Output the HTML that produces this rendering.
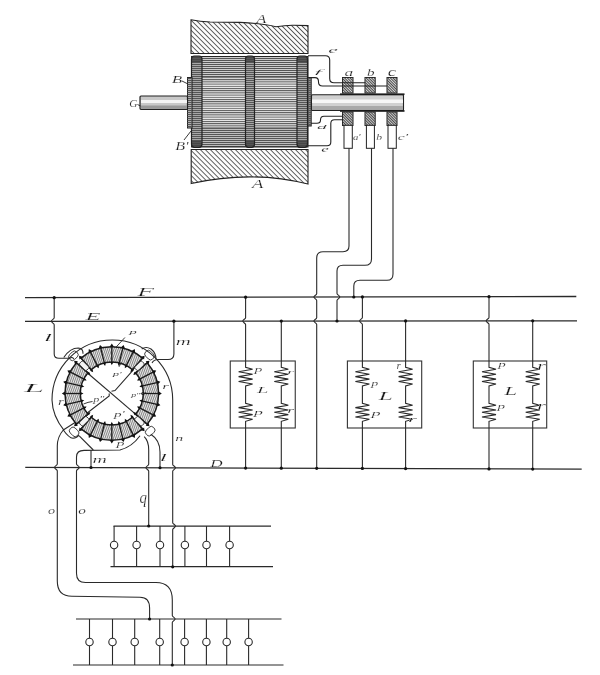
<!DOCTYPE html>
<html><head><meta charset="utf-8">
<style>
html,body{margin:0;padding:0;background:#fff;width:600px;height:675px;overflow:hidden}
svg{display:block;will-change:transform}
text{font-family:"Liberation Serif",serif;font-style:italic;fill:#1a1a1a}
</style></head><body>
<svg width="600" height="675" viewBox="0 0 600 675">
<defs>
<pattern id="hatch" patternUnits="userSpaceOnUse" width="3.54" height="10" patternTransform="rotate(-45)">
<rect x="0" y="0" width="0.95" height="10" fill="#555"/>
</pattern>
<pattern id="hatchs" patternUnits="userSpaceOnUse" width="1.9" height="10" patternTransform="rotate(-45)">
<rect x="0" y="0" width="0.9" height="10" fill="#444"/>
</pattern>
<pattern id="lam" patternUnits="userSpaceOnUse" width="10" height="2.2">
<rect x="0" y="0" width="10" height="1.0" fill="#555"/>
</pattern>
<pattern id="lamd" patternUnits="userSpaceOnUse" width="10" height="2">
<rect x="0" y="0" width="10" height="1.1" fill="#555"/>
</pattern>
<pattern id="coil" patternUnits="userSpaceOnUse" width="2" height="10" patternTransform="rotate(20)">
<rect x="0" y="0" width="0.8" height="10" fill="#6a6a6a"/>
</pattern>
</defs>
<path d="M191,19.8 Q200,21.5 210,22 L240,22.4 Q262,23.2 276,26.7 Q286,25 294,25.2 L308,25.6 L308,53.5 L191,53.5 Z" fill="url(#hatch)" stroke="#222" stroke-width="1.1"/>
<path d="M191.2,149.5 L308,149.5 L308,184 Q252,170 191.2,183.5 Z" fill="url(#hatch)" stroke="#222" stroke-width="1.1"/>
<rect x="191.5" y="56.5" width="116.5" height="90.5" fill="#f0f0f0"/>
<rect x="191.5" y="56.5" width="116.5" height="90.5" fill="url(#lam)"/>
<rect x="191.5" y="56.5" width="116.5" height="21" fill="#dadada"/>
<rect x="191.5" y="56.5" width="116.5" height="21" fill="url(#lamd)"/>
<rect x="191.5" y="128" width="116.5" height="19" fill="#c8c8c8"/>
<rect x="191.5" y="128" width="116.5" height="19" fill="url(#lamd)"/>
<line x1="191.5" y1="77.5" x2="308" y2="77.5" stroke="#777" stroke-width="0.8"/>
<line x1="191.5" y1="127.8" x2="308" y2="127.8" stroke="#777" stroke-width="0.8"/>
<rect x="191.5" y="56.5" width="116.5" height="90.5" fill="none" stroke="#222" stroke-width="1"/>
<rect x="191.5" y="56" width="10.5" height="91.3" rx="3" fill="#b0b0b0"/>
<rect x="191.5" y="56" width="10.5" height="7" rx="3" fill="#444"/>
<rect x="191.5" y="140.3" width="10.5" height="7" rx="3" fill="#444"/>
<rect x="191.5" y="56" width="10.5" height="91.3" rx="3" fill="url(#lamd)"/>
<rect x="191.5" y="56" width="10.5" height="91.3" rx="3" fill="none" stroke="#222" stroke-width="1.2"/>
<rect x="245.5" y="56" width="9" height="91.3" rx="3" fill="#b0b0b0"/>
<rect x="245.5" y="56" width="9" height="7" rx="3" fill="#444"/>
<rect x="245.5" y="140.3" width="9" height="7" rx="3" fill="#444"/>
<rect x="245.5" y="56" width="9" height="91.3" rx="3" fill="url(#lamd)"/>
<rect x="245.5" y="56" width="9" height="91.3" rx="3" fill="none" stroke="#222" stroke-width="1.2"/>
<rect x="297" y="56" width="10.5" height="91.3" rx="3" fill="#b0b0b0"/>
<rect x="297" y="56" width="10.5" height="7" rx="3" fill="#444"/>
<rect x="297" y="140.3" width="10.5" height="7" rx="3" fill="#444"/>
<rect x="297" y="56" width="10.5" height="91.3" rx="3" fill="url(#lamd)"/>
<rect x="297" y="56" width="10.5" height="91.3" rx="3" fill="none" stroke="#222" stroke-width="1.2"/>
<rect x="187.5" y="77.5" width="4.5" height="50.5" fill="#bbb" stroke="#222" stroke-width="1"/>
<rect x="187.5" y="77.5" width="4.5" height="50.5" fill="url(#lamd)"/>
<rect x="308" y="77.5" width="3.2" height="48.5" fill="#999" stroke="#222" stroke-width="1"/>
<rect x="308" y="77.5" width="3.2" height="48.5" fill="url(#lamd)"/>
<rect x="140" y="96" width="47.5" height="13.3" rx="1" fill="#c8c8c8" stroke="#222" stroke-width="1.2"/>
<rect x="141" y="100" width="46" height="3" fill="#f4f4f4"/>
<rect x="141" y="105.5" width="46" height="3" fill="#999"/>
<rect x="311.5" y="94.8" width="92" height="15.6" rx="1" fill="#d0d0d0" stroke="#222" stroke-width="1.1"/>
<rect x="312" y="99.5" width="91" height="3.5" fill="#f6f6f6"/>
<rect x="312" y="106" width="91" height="3.5" fill="#a8a8a8"/>
<rect x="340" y="93.4" width="64.5" height="1.7" fill="#1a1a1a"/>
<rect x="340" y="110.1" width="64.5" height="1.7" fill="#1a1a1a"/>
<path d="M182,81 L188,84 M137.5,104.5 L140.5,106 M184,140 L191,131" fill="none" stroke="#222" stroke-width="0.9"/>
<rect x="342.5" y="77.5" width="10.5" height="15.5" fill="#d4d4d4" stroke="#222"/>
<rect x="342.5" y="77.5" width="10.5" height="15.5" fill="url(#hatchs)"/>
<rect x="342.5" y="112" width="10.5" height="13.5" fill="#c8c8c8" stroke="#222"/>
<rect x="342.5" y="112" width="10.5" height="13.5" fill="url(#hatchs)"/>
<rect x="365" y="77.5" width="10.2" height="15.5" fill="#d4d4d4" stroke="#222"/>
<rect x="365" y="77.5" width="10.2" height="15.5" fill="url(#hatchs)"/>
<rect x="365" y="112" width="10.2" height="13.5" fill="#c8c8c8" stroke="#222"/>
<rect x="365" y="112" width="10.2" height="13.5" fill="url(#hatchs)"/>
<rect x="387" y="77.5" width="10" height="15.5" fill="#d4d4d4" stroke="#222"/>
<rect x="387" y="77.5" width="10" height="15.5" fill="url(#hatchs)"/>
<rect x="387" y="112" width="10" height="13.5" fill="#c8c8c8" stroke="#222"/>
<rect x="387" y="112" width="10" height="13.5" fill="url(#hatchs)"/>
<rect x="344" y="125.3" width="8.3" height="23" fill="#fff" stroke="#222"/>
<rect x="366.4" y="125.3" width="8" height="23" fill="#fff" stroke="#222"/>
<rect x="388" y="125.3" width="8.3" height="23" fill="#fff" stroke="#222"/>
<g fill="none" stroke="#222" stroke-width="1.1">
<path d="M308,55.8 L325.5,55.8 Q329.7,55.8 329.7,60 L329.7,78.5 Q329.7,82.8 334,82.8 L365,82.8"/>
<path d="M311,77.6 L315,77.6 Q318.5,77.6 318.5,81.5 L318.5,82 Q318.5,86 322.5,86 L387,86"/>
<path d="M311,123.3 L317,123.3 Q320.5,123.3 320.5,120 Q320.5,116.3 324,116.3 L342.5,116.3"/>
<path d="M308,145.8 L327,145.8 Q330.8,145.8 330.8,142 L330.8,123.5 Q330.8,119.7 334.5,119.7 L342.5,119.7"/>
</g>
<g fill="none" stroke="#2a2a2a" stroke-width="1.1">
<path d="M349,148.3 L349,246 Q349,251.7 343,251.7 L323,251.7 Q316.7,251.7 316.7,258 L316.70,293.67 C316.70,294.87 313.90,295.67 313.90,297.07 C313.90,298.47 316.70,299.27 316.70,300.47 L316.70,317.64 C316.70,318.84 313.90,319.64 313.90,321.04 C313.90,322.44 316.70,323.24 316.70,324.44 L316.7,468.3"/>
<path d="M371.5,148.3 L371.5,259 Q371.5,265.3 365,265.3 L343,265.3 Q337,265.3 337,271 L337.00,293.62 C337.00,294.82 339.80,295.62 339.80,297.02 C339.80,298.42 337.00,299.22 337.00,300.42 L337,321.02"/>
<path d="M393,148.3 L393,274 Q393,280.3 387,280.3 L360,280.3 Q353.8,280.3 353.8,286 L353.8,296.98"/>
<line x1="25" y1="297.7" x2="576.3" y2="296.5" stroke-width="1.3"/>
<line x1="25" y1="321.3" x2="577" y2="320.8" stroke-width="1.3"/>
<line x1="25.25" y1="467.3" x2="581.7" y2="469.2" stroke-width="1.3"/>
</g>
<rect x="230.25" y="361" width="65.0" height="67" fill="none" stroke="#333" stroke-width="1.1"/>
<path d="M245.6,297.22 L245.60,317.70 C245.60,318.90 242.80,319.70 242.80,321.10 C242.80,322.50 245.60,323.30 245.60,324.50 L245.6,367.3 L252.60,369.30 L238.60,371.75 L252.60,374.20 L238.60,376.65 L252.60,379.10 L238.60,381.55 L252.60,384.00 L245.6,386 L245.6,403.3 L252.60,405.30 L238.60,407.63 L252.60,409.97 L238.60,412.30 L252.60,414.63 L238.60,416.97 L252.60,419.30 L245.6,421.3 L245.6,468.05" fill="none" stroke="#2a2a2a" stroke-width="1.1"/>
<path d="M281.3,321.07 L281.3,367.3 L288.30,369.30 L274.30,371.75 L288.30,374.20 L274.30,376.65 L288.30,379.10 L274.30,381.55 L288.30,384.00 L281.3,386 L281.3,403.3 L288.30,405.30 L274.30,407.63 L288.30,409.97 L274.30,412.30 L288.30,414.63 L274.30,416.97 L288.30,419.30 L281.3,421.3 L281.3,468.17" fill="none" stroke="#2a2a2a" stroke-width="1.1"/>
<rect x="347.4" y="361" width="74.30000000000001" height="67" fill="none" stroke="#333" stroke-width="1.1"/>
<path d="M362.4,296.97 L362.40,317.59 C362.40,318.79 359.60,319.59 359.60,320.99 C359.60,322.39 362.40,323.19 362.40,324.39 L362.4,367.3 L369.40,369.30 L355.40,371.75 L369.40,374.20 L355.40,376.65 L369.40,379.10 L355.40,381.55 L369.40,384.00 L362.4,386 L362.4,403.3 L369.40,405.30 L355.40,407.63 L369.40,409.97 L355.40,412.30 L369.40,414.63 L355.40,416.97 L369.40,419.30 L362.4,421.3 L362.4,468.45" fill="none" stroke="#2a2a2a" stroke-width="1.1"/>
<path d="M405.6,320.96 L405.6,367.3 L412.60,369.30 L398.60,371.75 L412.60,374.20 L398.60,376.65 L412.60,379.10 L398.60,381.55 L412.60,384.00 L405.6,386 L405.6,403.3 L412.60,405.30 L398.60,407.63 L412.60,409.97 L398.60,412.30 L412.60,414.63 L398.60,416.97 L412.60,419.30 L405.6,421.3 L405.6,468.6" fill="none" stroke="#2a2a2a" stroke-width="1.1"/>
<rect x="473.3" y="361" width="73.40000000000003" height="67" fill="none" stroke="#333" stroke-width="1.1"/>
<path d="M489,296.69 L489.00,317.48 C489.00,318.68 486.20,319.48 486.20,320.88 C486.20,322.28 489.00,323.08 489.00,324.28 L489,367.3 L496.00,369.30 L482.00,371.75 L496.00,374.20 L482.00,376.65 L496.00,379.10 L482.00,381.55 L496.00,384.00 L489,386 L489,403.3 L496.00,405.30 L482.00,407.63 L496.00,409.97 L482.00,412.30 L496.00,414.63 L482.00,416.97 L496.00,419.30 L489,421.3 L489,468.88" fill="none" stroke="#2a2a2a" stroke-width="1.1"/>
<path d="M532.7,320.84 L532.7,367.3 L539.70,369.30 L525.70,371.75 L539.70,374.20 L525.70,376.65 L539.70,379.10 L525.70,381.55 L539.70,384.00 L532.7,386 L532.7,403.3 L539.70,405.30 L525.70,407.63 L539.70,409.97 L525.70,412.30 L539.70,414.63 L525.70,416.97 L539.70,419.30 L532.7,421.3 L532.7,469.03" fill="none" stroke="#2a2a2a" stroke-width="1.1"/>
<g fill="none" stroke="#2a2a2a" stroke-width="1.1">
<path d="M86.9,372.5 L138.75,416.9"/>
<path d="M133.75,369.4 L115,390.6 L111.5,391.3"/>
<path d="M109.2,393.5 L109.2,396 L75,422.5 L63.3,430"/>
</g>
<path d="M81.10,358.18 A46.8,46.8 0 0 1 142.50,358.18 L132.47,369.73 A31.5,31.5 0 0 0 91.13,369.73 Z" fill="#ececec"/>
<path d="M81.10,358.18 A46.8,46.8 0 0 1 142.50,358.18 L132.47,369.73 A31.5,31.5 0 0 0 91.13,369.73 Z" fill="url(#coil)" stroke="#1a1a1a" stroke-width="1.5"/>
<line x1="92.32" y1="371.09" x2="79.92" y2="356.82" stroke="#1a1a1a" stroke-width="1.3"/>
<line x1="98.16" y1="367.12" x2="89.48" y2="350.33" stroke="#1a1a1a" stroke-width="1.3"/>
<line x1="104.78" y1="364.64" x2="100.32" y2="346.28" stroke="#1a1a1a" stroke-width="1.3"/>
<line x1="111.80" y1="363.80" x2="111.80" y2="344.90" stroke="#1a1a1a" stroke-width="1.3"/>
<line x1="118.82" y1="364.64" x2="123.28" y2="346.28" stroke="#1a1a1a" stroke-width="1.3"/>
<line x1="125.44" y1="367.12" x2="134.12" y2="350.33" stroke="#1a1a1a" stroke-width="1.3"/>
<line x1="131.28" y1="371.09" x2="143.68" y2="356.82" stroke="#1a1a1a" stroke-width="1.3"/>
<path d="M90.08,370.69 L93.23,372.14 L92.23,368.81 Z" fill="#111"/>
<path d="M79.53,359.61 L79.00,355.76 L82.73,356.82 Z" fill="#111"/>
<path d="M96.08,366.20 L98.81,368.36 L98.62,364.89 Z" fill="#111"/>
<path d="M88.45,352.94 L88.84,349.08 L92.22,350.99 Z" fill="#111"/>
<path d="M102.98,363.26 L105.11,366.00 L105.75,362.59 Z" fill="#111"/>
<path d="M98.69,348.57 L99.99,344.92 L102.82,347.57 Z" fill="#111"/>
<path d="M110.37,362.03 L111.80,365.20 L113.23,362.03 Z" fill="#111"/>
<path d="M109.68,346.75 L111.80,343.50 L113.92,346.75 Z" fill="#111"/>
<path d="M117.85,362.59 L118.49,366.00 L120.62,363.26 Z" fill="#111"/>
<path d="M120.78,347.57 L123.61,344.92 L124.91,348.57 Z" fill="#111"/>
<path d="M124.98,364.89 L124.79,368.36 L127.52,366.20 Z" fill="#111"/>
<path d="M131.38,350.99 L134.76,349.08 L135.15,352.94 Z" fill="#111"/>
<path d="M131.37,368.81 L130.37,372.14 L133.52,370.69 Z" fill="#111"/>
<path d="M140.87,356.82 L144.60,355.76 L144.07,359.61 Z" fill="#111"/>
<path d="M147.12,362.80 A46.8,46.8 0 0 1 147.12,424.20 L135.57,414.17 A31.5,31.5 0 0 0 135.57,372.83 Z" fill="#ececec"/>
<path d="M147.12,362.80 A46.8,46.8 0 0 1 147.12,424.20 L135.57,414.17 A31.5,31.5 0 0 0 135.57,372.83 Z" fill="url(#coil)" stroke="#1a1a1a" stroke-width="1.5"/>
<line x1="134.21" y1="374.02" x2="148.48" y2="361.62" stroke="#1a1a1a" stroke-width="1.3"/>
<line x1="138.18" y1="379.86" x2="154.97" y2="371.18" stroke="#1a1a1a" stroke-width="1.3"/>
<line x1="140.66" y1="386.48" x2="159.02" y2="382.02" stroke="#1a1a1a" stroke-width="1.3"/>
<line x1="141.50" y1="393.50" x2="160.40" y2="393.50" stroke="#1a1a1a" stroke-width="1.3"/>
<line x1="140.66" y1="400.52" x2="159.02" y2="404.98" stroke="#1a1a1a" stroke-width="1.3"/>
<line x1="138.18" y1="407.14" x2="154.97" y2="415.82" stroke="#1a1a1a" stroke-width="1.3"/>
<line x1="134.21" y1="412.98" x2="148.48" y2="425.38" stroke="#1a1a1a" stroke-width="1.3"/>
<path d="M134.61,371.78 L133.16,374.93 L136.49,373.93 Z" fill="#111"/>
<path d="M145.69,361.23 L149.54,360.70 L148.48,364.43 Z" fill="#111"/>
<path d="M139.10,377.78 L136.94,380.51 L140.41,380.32 Z" fill="#111"/>
<path d="M152.36,370.15 L156.22,370.54 L154.31,373.92 Z" fill="#111"/>
<path d="M142.04,384.68 L139.30,386.81 L142.71,387.45 Z" fill="#111"/>
<path d="M156.73,380.39 L160.38,381.69 L157.73,384.52 Z" fill="#111"/>
<path d="M143.27,392.07 L140.10,393.50 L143.27,394.93 Z" fill="#111"/>
<path d="M158.55,391.38 L161.80,393.50 L158.55,395.62 Z" fill="#111"/>
<path d="M142.71,399.55 L139.30,400.19 L142.04,402.32 Z" fill="#111"/>
<path d="M157.73,402.48 L160.38,405.31 L156.73,406.61 Z" fill="#111"/>
<path d="M140.41,406.68 L136.94,406.49 L139.10,409.22 Z" fill="#111"/>
<path d="M154.31,413.08 L156.22,416.46 L152.36,416.85 Z" fill="#111"/>
<path d="M136.49,413.07 L133.16,412.07 L134.61,415.22 Z" fill="#111"/>
<path d="M148.48,422.57 L149.54,426.30 L145.69,425.77 Z" fill="#111"/>
<path d="M142.50,428.82 A46.8,46.8 0 0 1 81.10,428.82 L91.13,417.27 A31.5,31.5 0 0 0 132.47,417.27 Z" fill="#ececec"/>
<path d="M142.50,428.82 A46.8,46.8 0 0 1 81.10,428.82 L91.13,417.27 A31.5,31.5 0 0 0 132.47,417.27 Z" fill="url(#coil)" stroke="#1a1a1a" stroke-width="1.5"/>
<line x1="131.28" y1="415.91" x2="143.68" y2="430.18" stroke="#1a1a1a" stroke-width="1.3"/>
<line x1="125.44" y1="419.88" x2="134.12" y2="436.67" stroke="#1a1a1a" stroke-width="1.3"/>
<line x1="118.82" y1="422.36" x2="123.28" y2="440.72" stroke="#1a1a1a" stroke-width="1.3"/>
<line x1="111.80" y1="423.20" x2="111.80" y2="442.10" stroke="#1a1a1a" stroke-width="1.3"/>
<line x1="104.78" y1="422.36" x2="100.32" y2="440.72" stroke="#1a1a1a" stroke-width="1.3"/>
<line x1="98.16" y1="419.88" x2="89.48" y2="436.67" stroke="#1a1a1a" stroke-width="1.3"/>
<line x1="92.32" y1="415.91" x2="79.92" y2="430.18" stroke="#1a1a1a" stroke-width="1.3"/>
<path d="M133.52,416.31 L130.37,414.86 L131.37,418.19 Z" fill="#111"/>
<path d="M144.07,427.39 L144.60,431.24 L140.87,430.18 Z" fill="#111"/>
<path d="M127.52,420.80 L124.79,418.64 L124.98,422.11 Z" fill="#111"/>
<path d="M135.15,434.06 L134.76,437.92 L131.38,436.01 Z" fill="#111"/>
<path d="M120.62,423.74 L118.49,421.00 L117.85,424.41 Z" fill="#111"/>
<path d="M124.91,438.43 L123.61,442.08 L120.78,439.43 Z" fill="#111"/>
<path d="M113.23,424.97 L111.80,421.80 L110.37,424.97 Z" fill="#111"/>
<path d="M113.92,440.25 L111.80,443.50 L109.68,440.25 Z" fill="#111"/>
<path d="M105.75,424.41 L105.11,421.00 L102.98,423.74 Z" fill="#111"/>
<path d="M102.82,439.43 L99.99,442.08 L98.69,438.43 Z" fill="#111"/>
<path d="M98.62,422.11 L98.81,418.64 L96.08,420.80 Z" fill="#111"/>
<path d="M92.22,436.01 L88.84,437.92 L88.45,434.06 Z" fill="#111"/>
<path d="M92.23,418.19 L93.23,414.86 L90.08,416.31 Z" fill="#111"/>
<path d="M82.73,430.18 L79.00,431.24 L79.53,427.39 Z" fill="#111"/>
<path d="M76.48,424.20 A46.8,46.8 0 0 1 76.48,362.80 L88.03,372.83 A31.5,31.5 0 0 0 88.03,414.17 Z" fill="#ececec"/>
<path d="M76.48,424.20 A46.8,46.8 0 0 1 76.48,362.80 L88.03,372.83 A31.5,31.5 0 0 0 88.03,414.17 Z" fill="url(#coil)" stroke="#1a1a1a" stroke-width="1.5"/>
<line x1="89.39" y1="412.98" x2="75.12" y2="425.38" stroke="#1a1a1a" stroke-width="1.3"/>
<line x1="85.42" y1="407.14" x2="68.63" y2="415.82" stroke="#1a1a1a" stroke-width="1.3"/>
<line x1="82.94" y1="400.52" x2="64.58" y2="404.98" stroke="#1a1a1a" stroke-width="1.3"/>
<line x1="82.10" y1="393.50" x2="63.20" y2="393.50" stroke="#1a1a1a" stroke-width="1.3"/>
<line x1="82.94" y1="386.48" x2="64.58" y2="382.02" stroke="#1a1a1a" stroke-width="1.3"/>
<line x1="85.42" y1="379.86" x2="68.63" y2="371.18" stroke="#1a1a1a" stroke-width="1.3"/>
<line x1="89.39" y1="374.02" x2="75.12" y2="361.62" stroke="#1a1a1a" stroke-width="1.3"/>
<path d="M88.99,415.22 L90.44,412.07 L87.11,413.07 Z" fill="#111"/>
<path d="M77.91,425.77 L74.06,426.30 L75.12,422.57 Z" fill="#111"/>
<path d="M84.50,409.22 L86.66,406.49 L83.19,406.68 Z" fill="#111"/>
<path d="M71.24,416.85 L67.38,416.46 L69.29,413.08 Z" fill="#111"/>
<path d="M81.56,402.32 L84.30,400.19 L80.89,399.55 Z" fill="#111"/>
<path d="M66.87,406.61 L63.22,405.31 L65.87,402.48 Z" fill="#111"/>
<path d="M80.33,394.93 L83.50,393.50 L80.33,392.07 Z" fill="#111"/>
<path d="M65.05,395.62 L61.80,393.50 L65.05,391.38 Z" fill="#111"/>
<path d="M80.89,387.45 L84.30,386.81 L81.56,384.68 Z" fill="#111"/>
<path d="M65.87,384.52 L63.22,381.69 L66.87,380.39 Z" fill="#111"/>
<path d="M83.19,380.32 L86.66,380.51 L84.50,377.78 Z" fill="#111"/>
<path d="M69.29,373.92 L67.38,370.54 L71.24,370.15 Z" fill="#111"/>
<path d="M87.11,373.93 L90.44,374.93 L88.99,371.78 Z" fill="#111"/>
<path d="M75.12,364.43 L74.06,360.70 L77.91,361.23 Z" fill="#111"/>
<rect x="81.62" y="360.82" width="5" height="10" rx="1.5" fill="#f4f4f4" stroke="#333" stroke-width="0.9" transform="rotate(-45 84.12 365.82)"/>
<rect x="68.61" y="351.81" width="10" height="7" rx="3" fill="#fff" stroke="#333" stroke-width="0.9" transform="rotate(-45 74.11 355.81)"/>
<rect x="136.98" y="360.82" width="5" height="10" rx="1.5" fill="#f4f4f4" stroke="#333" stroke-width="0.9" transform="rotate(45 139.48 365.82)"/>
<rect x="143.99" y="351.81" width="10" height="7" rx="3" fill="#fff" stroke="#333" stroke-width="0.9" transform="rotate(45 149.49 355.81)"/>
<rect x="136.98" y="416.18" width="5" height="10" rx="1.5" fill="#f4f4f4" stroke="#333" stroke-width="0.9" transform="rotate(135 139.48 421.18)"/>
<rect x="143.99" y="427.19" width="10" height="7" rx="3" fill="#fff" stroke="#333" stroke-width="0.9" transform="rotate(135 149.49 431.19)"/>
<rect x="81.62" y="416.18" width="5" height="10" rx="1.5" fill="#f4f4f4" stroke="#333" stroke-width="0.9" transform="rotate(225 84.12 421.18)"/>
<rect x="68.61" y="427.19" width="10" height="7" rx="3" fill="#fff" stroke="#333" stroke-width="0.9" transform="rotate(225 74.11 431.19)"/>
<g fill="none" stroke="#2a2a2a" stroke-width="1.1">
<path d="M64,430.3 Q52.5,416 52,400 A60.35,60 0 0 1 172.7,400 L172.7,460 L172.70,464.40 C172.70,465.60 175.50,466.40 175.50,467.80 C175.50,469.20 172.70,470.00 172.70,471.20 L172.70,522.70 C172.70,523.90 175.50,524.70 175.50,526.10 C175.50,527.50 172.70,528.30 172.70,529.50 L172.7,566.8"/>
<path d="M54.2,297.64 L54.20,317.87 C54.20,319.07 51.40,319.87 51.40,321.27 C51.40,322.67 54.20,323.47 54.20,324.67 L54.2,354 Q54.2,358.3 59,358.3 L70,358.3 Q72,356.5 74,359"/>
<path d="M63.75,357.5 Q70,348 78.3,348 Q83.3,348.5 83,353.75"/>
<path d="M173.9,321.17 L173.9,354 Q173.9,359.5 168,359.5 L158,359.5 Q154,359.5 152,363"/>
<path d="M141.7,349 Q146,346 151,349 Q156,353 156,359"/>
<path d="M63.3,430 Q57.3,437 57.3,446 L57.30,464.01 C57.30,465.21 54.50,466.01 54.50,467.41 C54.50,468.81 57.30,469.61 57.30,470.81 L57.3,581 Q57.3,596.3 72,596.3 L140,597.2 Q149.6,597.2 149.6,608 L149.6,619"/>
<path d="M63.3,430 Q69,438 73,438.3 Q77,438 79,435"/>
<path d="M79.2,435.8 L93.3,450"/>
<path d="M140,435.8 Q132,447 120,450 L84,450.4 Q76.5,450.4 76.5,457 L76.50,464.07 C76.50,465.27 79.30,466.07 79.30,467.47 C79.30,468.87 76.50,469.67 76.50,470.87 L76.5,573.5 Q76.5,582.5 85.5,582.5 L156,582.5 Q172.3,582.5 172.3,600 L172.30,615.60 C172.30,616.80 175.10,617.60 175.10,619.00 C175.10,620.40 172.30,621.20 172.30,622.40 L172.3,665"/>
<path d="M91,450.4 L91,467.52"/>
<path d="M144.2,436.7 Q148.7,441 148.7,450 L148.70,464.32 C148.70,465.52 145.90,466.32 145.90,467.72 C145.90,469.12 148.70,469.92 148.70,471.12 L148.7,526"/>
<path d="M150.8,434.2 Q160,440 160,452 L160,467.76"/>
</g>
<path d="M124.9,337.5 L116,347.2 M119,366.8 L121.4,362.4 M92.5,401.5 Q88,402 83.5,404 M142,394.5 L146,392.5" fill="none" stroke="#222" stroke-width="0.9"/>
<g fill="none" stroke="#2a2a2a" stroke-width="1.1">
<line x1="113.5" y1="526.1" x2="271" y2="526.1"/>
<line x1="110.5" y1="566.6" x2="273" y2="566.6"/>
<line x1="114.1" y1="526.1" x2="114.1" y2="541.3"/>
<line x1="114.1" y1="548.7" x2="114.1" y2="566.6"/>
<circle cx="114.1" cy="545" r="3.7" fill="#fff"/>
<line x1="136.6" y1="526.1" x2="136.6" y2="541.3"/>
<line x1="136.6" y1="548.7" x2="136.6" y2="566.6"/>
<circle cx="136.6" cy="545" r="3.7" fill="#fff"/>
<line x1="160" y1="526.1" x2="160" y2="541.3"/>
<line x1="160" y1="548.7" x2="160" y2="566.6"/>
<circle cx="160" cy="545" r="3.7" fill="#fff"/>
<line x1="184.9" y1="526.1" x2="184.9" y2="541.3"/>
<line x1="184.9" y1="548.7" x2="184.9" y2="566.6"/>
<circle cx="184.9" cy="545" r="3.7" fill="#fff"/>
<line x1="206.5" y1="526.1" x2="206.5" y2="541.3"/>
<line x1="206.5" y1="548.7" x2="206.5" y2="566.6"/>
<circle cx="206.5" cy="545" r="3.7" fill="#fff"/>
<line x1="229.6" y1="526.1" x2="229.6" y2="541.3"/>
<line x1="229.6" y1="548.7" x2="229.6" y2="566.6"/>
<circle cx="229.6" cy="545" r="3.7" fill="#fff"/>
</g>
<g fill="none" stroke="#2a2a2a" stroke-width="1.1">
<line x1="76" y1="619" x2="281.5" y2="619"/>
<line x1="73" y1="665" x2="283.5" y2="665"/>
<line x1="89.5" y1="619" x2="89.5" y2="638.3"/>
<line x1="89.5" y1="645.7" x2="89.5" y2="665"/>
<circle cx="89.5" cy="642" r="3.7" fill="#fff"/>
<line x1="112.5" y1="619" x2="112.5" y2="638.3"/>
<line x1="112.5" y1="645.7" x2="112.5" y2="665"/>
<circle cx="112.5" cy="642" r="3.7" fill="#fff"/>
<line x1="134.7" y1="619" x2="134.7" y2="638.3"/>
<line x1="134.7" y1="645.7" x2="134.7" y2="665"/>
<circle cx="134.7" cy="642" r="3.7" fill="#fff"/>
<line x1="159.7" y1="619" x2="159.7" y2="638.3"/>
<line x1="159.7" y1="645.7" x2="159.7" y2="665"/>
<circle cx="159.7" cy="642" r="3.7" fill="#fff"/>
<line x1="184.6" y1="619" x2="184.6" y2="638.3"/>
<line x1="184.6" y1="645.7" x2="184.6" y2="665"/>
<circle cx="184.6" cy="642" r="3.7" fill="#fff"/>
<line x1="206.4" y1="619" x2="206.4" y2="638.3"/>
<line x1="206.4" y1="645.7" x2="206.4" y2="665"/>
<circle cx="206.4" cy="642" r="3.7" fill="#fff"/>
<line x1="226.7" y1="619" x2="226.7" y2="638.3"/>
<line x1="226.7" y1="645.7" x2="226.7" y2="665"/>
<circle cx="226.7" cy="642" r="3.7" fill="#fff"/>
<line x1="248.6" y1="619" x2="248.6" y2="638.3"/>
<line x1="248.6" y1="645.7" x2="248.6" y2="665"/>
<circle cx="248.6" cy="642" r="3.7" fill="#fff"/>
</g>
<text font-size="100" stroke="#fff" stroke-width="1.5" transform="matrix(0.1606 0 0 0.1185 256.50 22.82)">A</text>
<text font-size="100" stroke="#fff" stroke-width="1.5" transform="matrix(0.1864 0 0 0.1231 251.93 187.82)">A</text>
<text font-size="100" stroke="#fff" stroke-width="1.5" transform="matrix(0.1724 0 0 0.1031 171.83 82.70)">B</text>
<text font-size="100" stroke="#fff" stroke-width="1.5" transform="matrix(0.1141 0 0 0.1106 129.32 107.19)">G</text>
<text font-size="100" stroke="#fff" stroke-width="1.5" transform="matrix(0.1614 0 0 0.1338 175.14 150.00)">B&#x27;</text>
<text font-size="100" stroke="#fff" stroke-width="1.5" transform="matrix(0.2179 0 0 0.0896 328.35 53.21)">e</text>
<text font-size="100" stroke="#fff" stroke-width="1.5" transform="matrix(0.2632 0 0 0.0652 314.74 73.63)">f</text>
<text font-size="100" stroke="#fff" stroke-width="1.5" transform="matrix(0.1744 0 0 0.1042 344.48 75.70)">a</text>
<text font-size="100" stroke="#fff" stroke-width="1.5" transform="matrix(0.1512 0 0 0.0971 366.90 75.70)">b</text>
<text font-size="100" stroke="#fff" stroke-width="1.5" transform="matrix(0.1875 0 0 0.1208 387.74 75.68)">c</text>
<text font-size="100" stroke="#fff" stroke-width="1.5" transform="matrix(0.1957 0 0 0.0600 316.91 129.14)">d</text>
<text font-size="100" stroke="#fff" stroke-width="1.5" transform="matrix(0.1692 0 0 0.0875 321.19 151.61)">e</text>
<text font-size="100" stroke="#fff" stroke-width="1.5" transform="matrix(0.1071 0 0 0.0758 352.98 139.92)">a&#x27;</text>
<text font-size="100" stroke="#fff" stroke-width="1.5" transform="matrix(0.1163 0 0 0.0857 376.23 139.91)">b</text>
<text font-size="100" stroke="#fff" stroke-width="1.5" transform="matrix(0.1562 0 0 0.0758 397.83 139.92)">c&#x27;</text>
<text font-size="100" stroke="#fff" stroke-width="1.5" transform="matrix(0.2742 0 0 0.1231 137.30 296.00)">F</text>
<text font-size="100" stroke="#fff" stroke-width="1.5" transform="matrix(0.2450 0 0 0.1031 85.55 320.00)">E</text>
<text font-size="100" stroke="#fff" stroke-width="1.5" transform="matrix(0.1708 0 0 0.1123 210.17 467.30)">D</text>
<text font-size="100" stroke="#fff" stroke-width="1.5" transform="matrix(0.3606 0 0 0.1338 24.11 391.70)">L</text>
<text font-size="100" stroke="#fff" stroke-width="1.5" transform="matrix(0.1585 0 0 0.0735 254.45 372.21)">p</text>
<text font-size="100" stroke="#fff" stroke-width="1.5" transform="matrix(0.2038 0 0 0.0862 257.10 392.50)">L</text>
<text font-size="100" stroke="#fff" stroke-width="1.5" transform="matrix(0.1792 0 0 0.0831 254.08 415.16)">p</text>
<text font-size="100" stroke="#fff" stroke-width="1.5" transform="matrix(0.1829 0 0 0.0670 287.27 374.40)">r</text>
<text font-size="100" stroke="#fff" stroke-width="1.5" transform="matrix(0.1829 0 0 0.0787 287.27 413.10)">r</text>
<text font-size="100" stroke="#fff" stroke-width="1.5" transform="matrix(0.1396 0 0 0.0882 371.14 386.45)">p</text>
<text font-size="100" stroke="#fff" stroke-width="1.5" transform="matrix(0.2577 0 0 0.1338 378.56 399.70)">L</text>
<text font-size="100" stroke="#fff" stroke-width="1.5" transform="matrix(0.1830 0 0 0.0926 371.40 416.05)">p</text>
<text font-size="100" stroke="#fff" stroke-width="1.5" transform="matrix(0.1143 0 0 0.1000 396.54 369.00)">r</text>
<text font-size="100" stroke="#fff" stroke-width="1.5" transform="matrix(0.2286 0 0 0.0851 408.09 422.00)">r</text>
<text font-size="100" stroke="#fff" stroke-width="1.5" transform="matrix(0.1509 0 0 0.0882 498.21 367.15)">p</text>
<text font-size="100" stroke="#fff" stroke-width="1.5" transform="matrix(0.2308 0 0 0.1231 504.23 395.00)">L</text>
<text font-size="100" stroke="#fff" stroke-width="1.5" transform="matrix(0.1509 0 0 0.0882 497.61 409.15)">p</text>
<text font-size="100" stroke="#fff" stroke-width="1.5" transform="matrix(0.2286 0 0 0.1277 537.09 370.00)">r</text>
<text font-size="100" stroke="#fff" stroke-width="1.5" transform="matrix(0.2286 0 0 0.1277 537.09 410.00)">r</text>
<text font-size="100" stroke="#fff" stroke-width="1.5" transform="matrix(0.3000 0 0 0.0971 43.80 340.70)">l</text>
<text font-size="100" stroke="#fff" stroke-width="1.5" transform="matrix(0.2078 0 0 0.1064 175.87 345.00)">m</text>
<text font-size="100" stroke="#fff" stroke-width="1.5" transform="matrix(0.1595 0 0 0.0851 175.36 441.30)">n</text>
<text font-size="100" stroke="#fff" stroke-width="1.5" transform="matrix(0.2650 0 0 0.0957 159.38 461.30)">l</text>
<text font-size="100" stroke="#fff" stroke-width="1.5" transform="matrix(0.1984 0 0 0.1128 92.51 463.00)">m</text>
<text font-size="100" stroke="#fff" stroke-width="1.5" transform="matrix(0.1509 0 0 0.0588 129.21 334.06)">p</text>
<text font-size="100" stroke="#fff" stroke-width="1.5" transform="matrix(0.1266 0 0 0.0657 112.66 375.52)">p&#x27;</text>
<text font-size="100" stroke="#fff" stroke-width="1.5" transform="matrix(0.0983 0 0 0.0669 131.19 397.35)">p&quot;&#x27;</text>
<text font-size="100" stroke="#fff" stroke-width="1.5" transform="matrix(0.1214 0 0 0.0727 93.23 402.22)">p&quot;</text>
<text font-size="100" stroke="#fff" stroke-width="1.5" transform="matrix(0.1519 0 0 0.0721 113.91 416.59)">p&#x27;</text>
<text font-size="100" stroke="#fff" stroke-width="1.5" transform="matrix(0.1714 0 0 0.0851 162.31 388.70)">r</text>
<text font-size="100" stroke="#fff" stroke-width="1.5" transform="matrix(0.1514 0 0 0.1000 58.09 404.70)">r</text>
<text font-size="100" stroke="#fff" stroke-width="1.5" transform="matrix(0.1604 0 0 0.0809 116.46 445.80)">p</text>
<text font-size="100" stroke="#fff" stroke-width="1.5" transform="matrix(0.1409 0 0 0.1104 48.08 514.09)">o</text>
<text font-size="100" stroke="#fff" stroke-width="1.5" transform="matrix(0.1523 0 0 0.1104 78.24 514.09)">o</text>
<text font-size="100" stroke="#fff" stroke-width="1.5" transform="matrix(0.1489 0 0 0.1574 139.55 503.40)">q</text>
<circle cx="353.8" cy="296.98" r="1.6" fill="#111"/>
<circle cx="337" cy="321.02" r="1.6" fill="#111"/>
<circle cx="316.7" cy="468.3" r="1.6" fill="#111"/>
<circle cx="245.6" cy="297.22" r="1.6" fill="#111"/>
<circle cx="245.6" cy="468.05" r="1.6" fill="#111"/>
<circle cx="281.3" cy="321.07" r="1.6" fill="#111"/>
<circle cx="281.3" cy="468.17" r="1.6" fill="#111"/>
<circle cx="362.4" cy="296.97" r="1.6" fill="#111"/>
<circle cx="362.4" cy="468.45" r="1.6" fill="#111"/>
<circle cx="405.6" cy="320.96" r="1.6" fill="#111"/>
<circle cx="405.6" cy="468.6" r="1.6" fill="#111"/>
<circle cx="489" cy="296.69" r="1.6" fill="#111"/>
<circle cx="489" cy="468.88" r="1.6" fill="#111"/>
<circle cx="532.7" cy="320.84" r="1.6" fill="#111"/>
<circle cx="532.7" cy="469.03" r="1.6" fill="#111"/>
<circle cx="54.2" cy="297.64" r="1.6" fill="#111"/>
<circle cx="173.9" cy="321.17" r="1.6" fill="#111"/>
<circle cx="91" cy="467.52" r="1.6" fill="#111"/>
<circle cx="160" cy="467.76" r="1.6" fill="#111"/>
<circle cx="148.7" cy="526" r="1.6" fill="#111"/>
<circle cx="172.7" cy="566.8" r="1.6" fill="#111"/>
<circle cx="149.6" cy="619" r="1.6" fill="#111"/>
<circle cx="172.3" cy="665" r="1.6" fill="#111"/>
</svg>
</body></html>
